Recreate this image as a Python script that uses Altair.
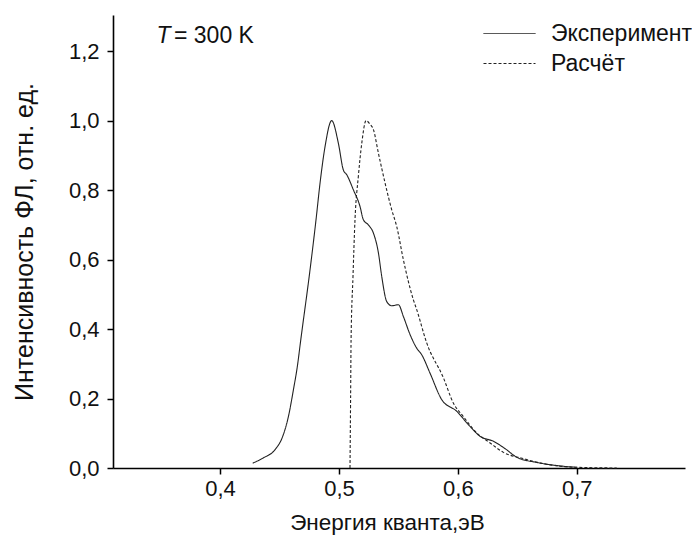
import altair as alt
import pandas as pd

# ---- data ----
exp_x = [0.4275, 0.4364, 0.4463, 0.4527, 0.4575, 0.4617, 0.4650, 0.4679, 0.4757, 0.4807,
         0.4841, 0.4883, 0.4939, 0.4995, 0.5037, 0.5066, 0.5121, 0.5177, 0.5205, 0.5247,
         0.5290, 0.5332, 0.5360, 0.5402, 0.5444, 0.5500, 0.5542, 0.5598, 0.5654, 0.5696,
         0.5766, 0.5864, 0.5991, 0.6088, 0.6187, 0.6299, 0.6400, 0.6495, 0.6664, 0.6888,
         0.7000]
exp_y = [0.014, 0.029, 0.053, 0.091, 0.148, 0.225, 0.292, 0.369, 0.571, 0.714,
         0.820, 0.925, 1.000, 0.935, 0.858, 0.844, 0.801, 0.753, 0.715, 0.700,
         0.676, 0.619, 0.551, 0.479, 0.467, 0.470, 0.436, 0.384, 0.345, 0.326,
         0.273, 0.197, 0.163, 0.125, 0.091, 0.077, 0.055, 0.031, 0.016, 0.005,
         0.002]

calc_x = [0.5093, 0.5098, 0.5102, 0.5118, 0.5135, 0.5163, 0.5192, 0.5228, 0.5260, 0.5290,
          0.5332, 0.5388, 0.5444, 0.5486, 0.5542, 0.5626, 0.5654, 0.5738, 0.5878, 0.5962,
          0.6046, 0.6159, 0.6271, 0.6383, 0.6551, 0.6775, 0.7000, 0.7336]
calc_y = [0.000, 0.200, 0.370, 0.550, 0.715, 0.839, 0.935, 1.000, 0.990, 0.974,
          0.906, 0.820, 0.743, 0.695, 0.599, 0.484, 0.456, 0.360, 0.260, 0.187,
          0.148, 0.101, 0.072, 0.045, 0.027, 0.009, 0.002, 0.000]

series_names = ["Эксперимент", "Расчёт"]

x_ticks = [0.4, 0.5, 0.6, 0.7]
y_ticks = [0.0, 0.2, 0.4, 0.6, 0.8, 1.0, 1.2]

ann_x = [0.3465, 0.3613]
ann_y = [1.2426, 1.2426]
ann_text = ["T", "= 300 K"]
ann_style = ["italic", "normal"]

# ---- build tables ----
df = pd.concat([
    pd.DataFrame({"E": exp_x, "I": exp_y, "series": series_names[0], "order": range(len(exp_x))}),
    pd.DataFrame({"E": calc_x, "I": calc_y, "series": series_names[1], "order": range(len(calc_x))}),
])
ann = pd.DataFrame({"E": ann_x, "I": ann_y, "t": ann_text, "style": ann_style})

FONT = "Liberation Sans"
label_expr = "replace(format(datum.value, '.1f'), '.', ',')"

x_scale = alt.Scale(domain=[0.31, 0.791], nice=False, zero=False)
y_scale = alt.Scale(domain=[0, 1.304], nice=False)

lines = alt.Chart(df).mark_line(strokeWidth=1.1, color="#222222", interpolate="monotone").encode(
    x=alt.X("E:Q", scale=x_scale,
            axis=alt.Axis(title="Энергия кванта,эВ", values=x_ticks, labelExpr=label_expr,
                          titlePadding=12, titleX=274)),
    y=alt.Y("I:Q", scale=y_scale,
            axis=alt.Axis(title="Интенсивность ФЛ, отн. ед.", values=y_ticks, labelExpr=label_expr,
                          titlePadding=31)),
    detail="series:N",
    order="order:Q",
    strokeDash=alt.StrokeDash(
        "series:N",
        scale=alt.Scale(domain=series_names, range=[[1, 0], [3, 2]]),
        legend=alt.Legend(title=None, orient="none", legendX=383, legendY=5,
                          symbolType="M-2,0L2,0", symbolSize=676, symbolStrokeColor="#222222",
                          symbolFillColor="transparent",
                          symbolStrokeWidth=1, labelFontSize=23, labelFont=FONT,
                          labelColor="#111111", labelOffset=28, rowPadding=4),
    ),
)

t_italic = alt.Chart(ann).transform_filter(alt.datum.style == "italic").mark_text(
    font=FONT, fontSize=23, fontStyle="italic", align="left", baseline="middle", color="#111111"
).encode(x=alt.X("E:Q", scale=x_scale), y=alt.Y("I:Q", scale=y_scale), text="t:N")

t_norm = alt.Chart(ann).transform_filter(alt.datum.style == "normal").mark_text(
    font=FONT, fontSize=23, align="left", baseline="middle", color="#111111"
).encode(x=alt.X("E:Q", scale=x_scale), y=alt.Y("I:Q", scale=y_scale), text="t:N")

chart = alt.layer(lines, t_italic, t_norm).properties(
    width=572, height=453,
    autosize=alt.AutoSizeParams(type="none"),
    padding={"left": 105, "top": 7, "right": 7, "bottom": 72},
    background="white",
).configure_view(stroke=None).configure_axis(
    grid=False, domainColor="#000000", domainWidth=1.6, tickColor="#000000", tickWidth=1.5,
    tickSize=6, labelFont=FONT, labelFontSize=22, labelColor="#111111",
    titleFont=FONT, titleFontWeight="normal", titleColor="#111111",
).configure_axisX(labelPadding=4, titleFontSize=22.5).configure_axisY(
    labelPadding=8, titleFontSize=25)

chart.save("out.html", embed_options={"renderer": "svg", "actions": False})
